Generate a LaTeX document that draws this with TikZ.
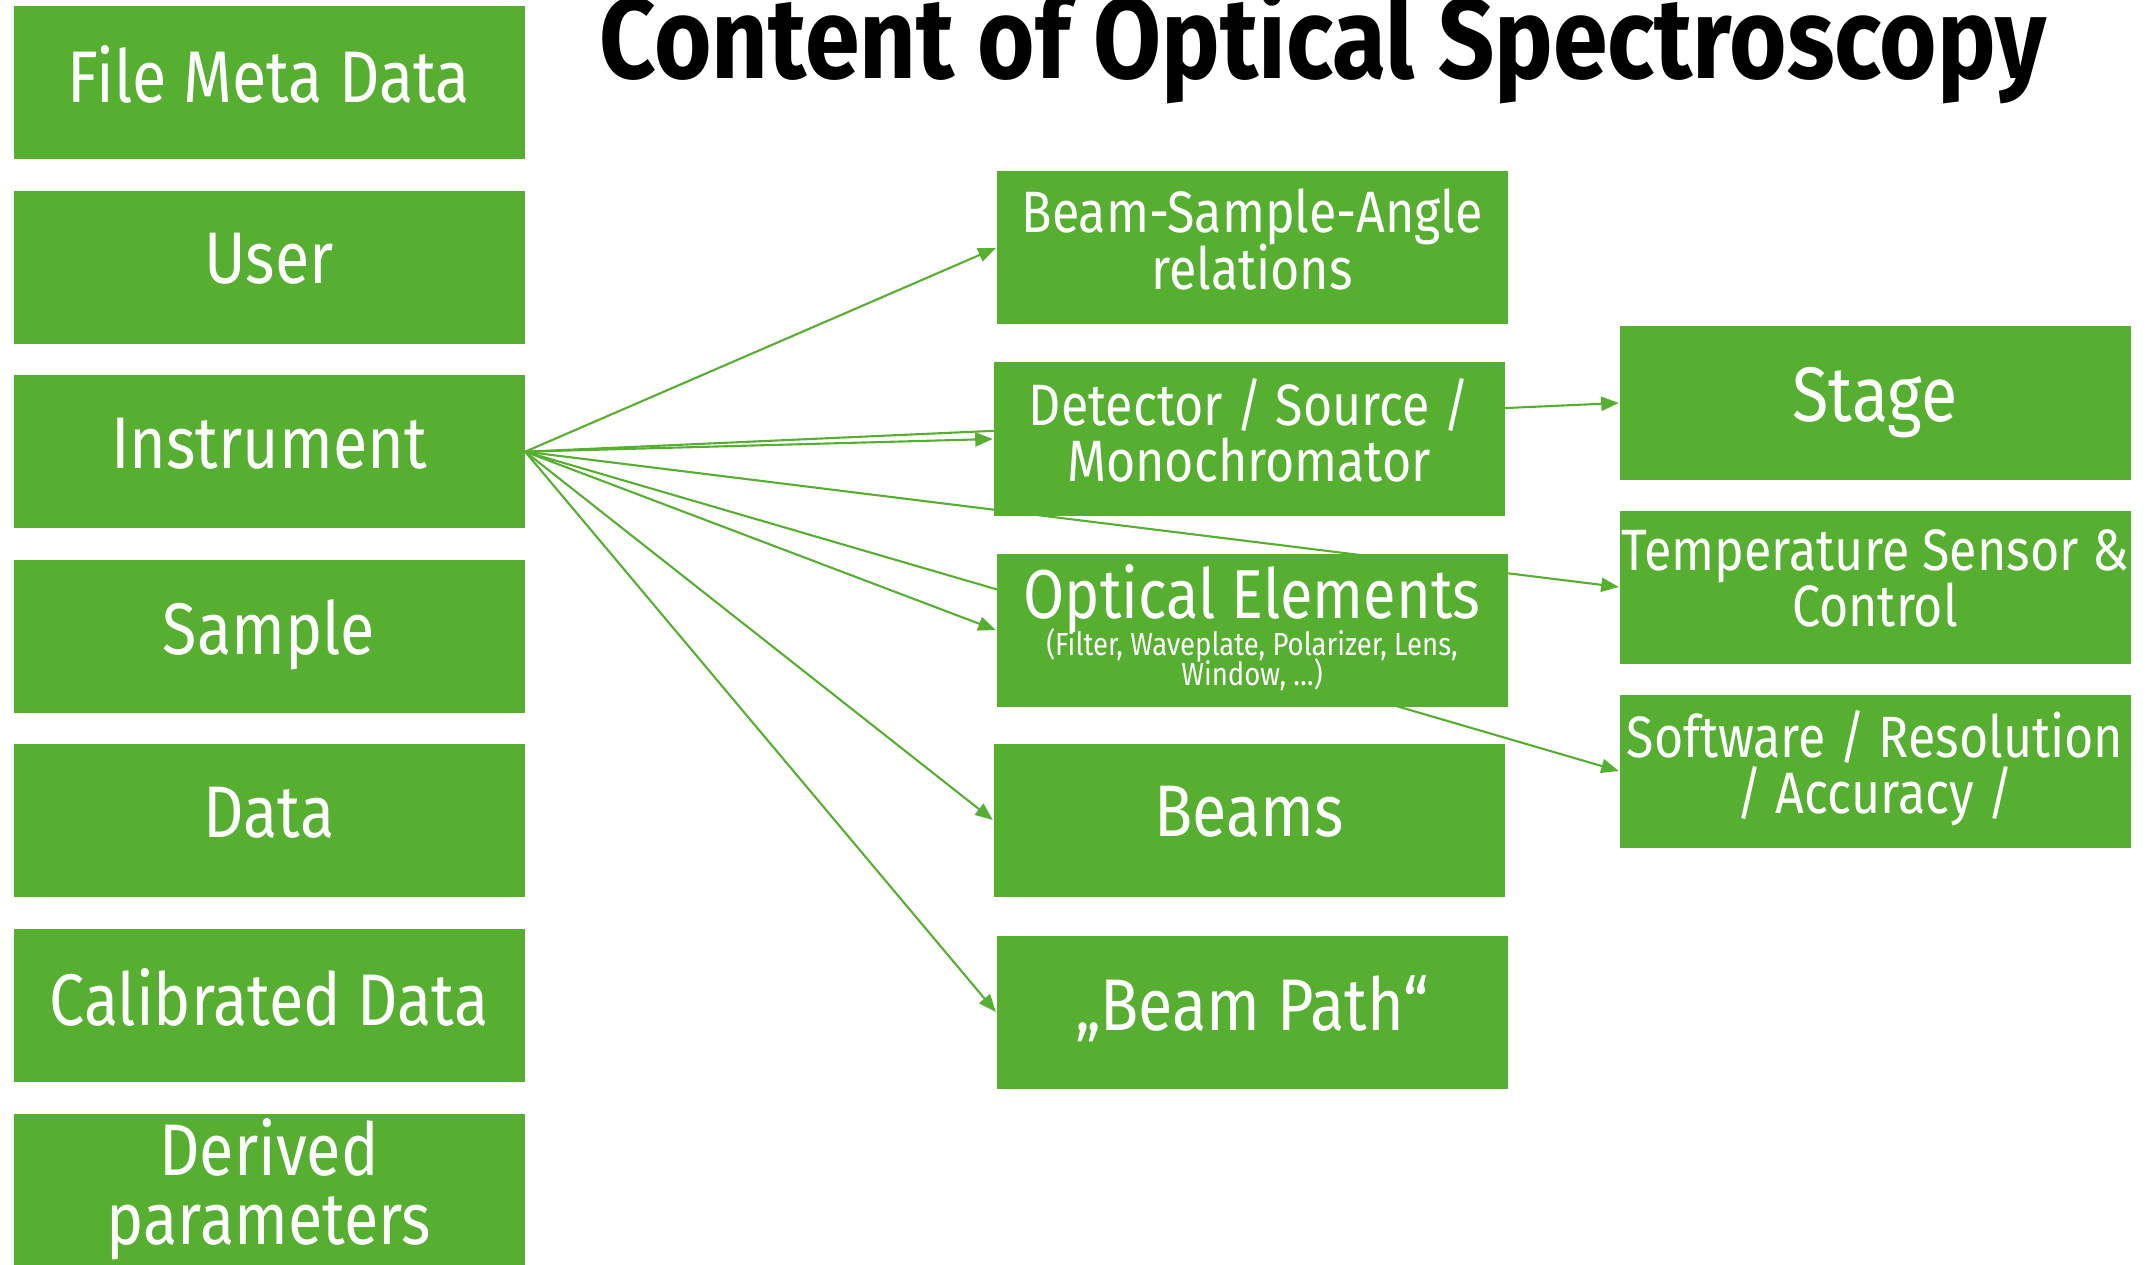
\documentclass[tikz,border=0pt]{standalone}
\usepackage{fontspec}
\setmainfont{Fira Sans}[FakeStretch=0.86]
\usetikzlibrary{arrows.meta,backgrounds}

\definecolor{boxgreen}{RGB}{87,175,50}
\lineskiplimit=-30pt

\begin{document}
\begin{tikzpicture}[
    box/.style={fill=boxgreen, text=white, minimum width=5.11cm, minimum height=1.53cm,
      inner sep=0pt, align=center, text depth=5pt, font=\fontsize{20.8}{19.5}\selectfont},
    midtext/.style={font=\fontsize{16.6}{16}\selectfont},
    link/.style={draw=boxgreen, line width=0.6pt, -{Triangle[length=5pt,width=4pt]}}]

	\useasboundingbox (0,0) rectangle (21.51,-12.65);

	% Title
	\node[anchor=base west, inner sep=0pt, font=\fontsize{32.6}{32}\selectfont\bfseries] (title)
		at (5.99,-0.79) {Content of Optical Spectroscopy};

	% Left column
	\foreach \name/\label [count=\i from 0] in {meta/File Meta Data, user/User,
		instr/Instrument, sample/Sample, data/Data, calib/Calibrated Data,
		derived/{Derived\\parameters}}
	\node[box] (\name) at (2.69,-0.825-1.846*\i) {\label};

	% Middle column
	\node[box, midtext] (angle) at (12.52,-2.48) {Beam-Sample-Angle\\relations};
	\node[box, midtext] (detector) at (12.49,-4.39) {Detector / Source /\\Monochromator};
	\node[box, text depth=3pt, font=\fontsize{19.7}{18.5}\selectfont] (optical) at (12.52,-6.30)
		{Optical Elements\\[-8pt]
		{\fontsize{9.1}{10}\selectfont (Filter, Waveplate, Polarizer, Lens,}\\[-9.9pt]
		{\fontsize{9.1}{10}\selectfont Window, \dots)}};
	\node[box] (beams) at (12.49,-8.20) {Beams};
	\node[box] (path) at (12.52,-10.12) {„Beam Path“};

	% Right column
	\node[box, font=\fontsize{22}{22}\selectfont] (stage) at (18.75,-4.03) {Stage};
	\node[box, midtext] (temp) at (18.75,-5.87) {Temperature Sensor \&\\Control};
	\node[box, midtext] (software) at (18.75,-7.71) {Software / Resolution\\/ Accuracy /};

	% Links (behind the boxes)
	\begin{scope}[on background layer]
		\foreach \target in {angle, detector, stage, temp, software, optical, beams, path}
		\draw[link] (instr.east) -- (\target.west);
	\end{scope}

\end{tikzpicture}
\end{document}
